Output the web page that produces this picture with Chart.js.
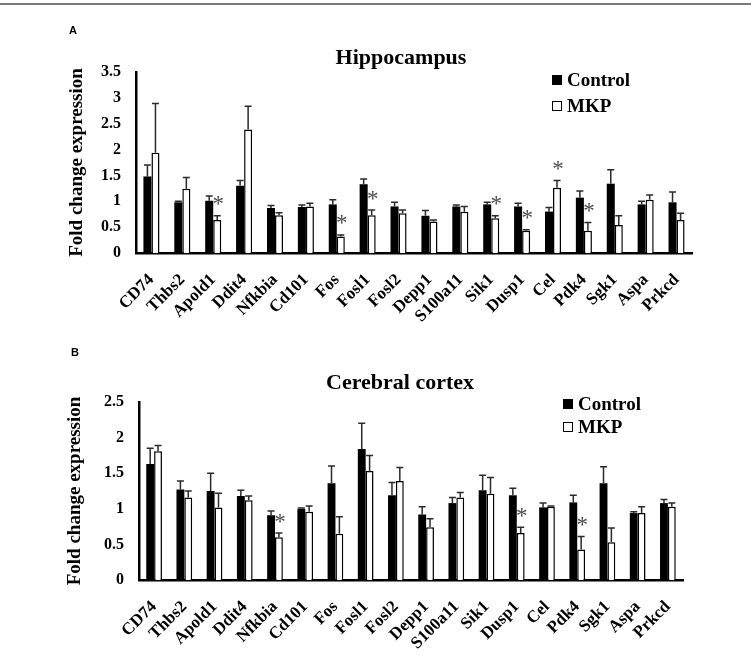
<!DOCTYPE html>
<html>
<head>
<meta charset="utf-8">
<script src="https://cdn.jsdelivr.net/npm/chart.js@4.4.1/dist/chart.umd.min.js"></script>
<style>
    html, body { margin: 0; padding: 0; background: #fff; }
    body { width: 751px; height: 655px; position: relative; overflow: hidden; }
    .topline { position: absolute; left: 0; top: 3px; width: 751px; height: 2px; background: #7a7a7a; }
    canvas { position: absolute; left: 0; }
    #chartA { top: 0; }
    #chartB { top: 335px; }
</style>
</head>
<body>
<div class="topline"></div>
<canvas id="chartA" width="751" height="335"></canvas>
<canvas id="chartB" width="751" height="320"></canvas>
<script>
// ================= DADOS =================
const genes = ["CD74", "Thbs2", "Apold1", "Ddit4", "Nfkbia", "Cd101", "Fos", "Fosl1", "Fosl2",
               "Depp1", "S100a11", "Sik1", "Dusp1", "Cel", "Pdk4", "Sgk1", "Aspa", "Prkcd"];

// Hippocampus (A)
const hipControl    = [1.48, 0.98, 1.01, 1.30, 0.87, 0.89, 0.94, 1.33, 0.90, 0.72, 0.90, 0.94, 0.90, 0.80, 1.07, 1.34, 0.94, 0.98];
const hipControlErr = [0.22, 0.02, 0.09, 0.10, 0.05, 0.04, 0.09, 0.10, 0.08, 0.10, 0.03, 0.04, 0.06, 0.08, 0.13, 0.27, 0.06, 0.20];
const hipMkp        = [1.94, 1.24, 0.64, 2.39, 0.73, 0.90, 0.32, 0.73, 0.77, 0.61, 0.80, 0.67, 0.43, 1.26, 0.43, 0.54, 1.03, 0.64];
const hipMkpErr     = [0.95, 0.22, 0.08, 0.45, 0.05, 0.06, 0.03, 0.10, 0.06, 0.03, 0.10, 0.05, 0.02, 0.14, 0.16, 0.18, 0.09, 0.13];
const hipStars      = ["Apold1", "Fos", "Fosl1", "Sik1", "Dusp1", "Cel", "Pdk4"];

// Cerebral cortex (B)
const ctxControl    = [1.63, 1.27, 1.25, 1.18, 0.91, 1.00, 1.36, 1.84, 1.19, 0.92, 1.08, 1.26, 1.19, 1.02, 1.09, 1.36, 0.94, 1.08];
const ctxControlErr = [0.22, 0.12, 0.25, 0.08, 0.06, 0.01, 0.24, 0.36, 0.18, 0.11, 0.08, 0.21, 0.10, 0.06, 0.10, 0.23, 0.02, 0.05];
const ctxMkp        = [1.81, 1.16, 1.02, 1.12, 0.60, 0.96, 0.65, 1.53, 1.39, 0.74, 1.16, 1.21, 0.66, 1.03, 0.43, 0.53, 0.94, 1.03];
const ctxMkpErr     = [0.08, 0.09, 0.20, 0.06, 0.06, 0.08, 0.24, 0.22, 0.19, 0.12, 0.07, 0.23, 0.08, 0.01, 0.18, 0.20, 0.09, 0.05];
const ctxStars      = ["Nfkbia", "Dusp1", "Pdk4"];

const seriesNames = ["Control", "MKP"];

const SERIF = "'Liberation Serif', 'Times New Roman', serif";

// ================= PLUGIN: barras de erro, asteriscos, titulo, legenda =================
const extrasPlugin = {
    id: "extras",
    afterDatasetsDraw(chart, args, opts) {
        const ctx = chart.ctx;
        const y = chart.scales.y;
        ctx.save();
        ctx.strokeStyle = "#2a2a2a";
        ctx.lineWidth = 1.5;
        chart.data.datasets.forEach((ds, i) => {
            const meta = chart.getDatasetMeta(i);
            meta.data.forEach((bar, j) => {
                const topPx = y.getPixelForValue(ds.data[j] + opts.errors[i][j]);
                ctx.beginPath();
                ctx.moveTo(bar.x, bar.y);
                ctx.lineTo(bar.x, topPx);
                ctx.moveTo(bar.x - 3.5, topPx);
                ctx.lineTo(bar.x + 3.5, topPx);
                ctx.stroke();
            });
        });

        // asteriscos sobre as barras MKP
        ctx.fillStyle = "#4a4a4a";
        ctx.font = "23px " + SERIF;
        ctx.textAlign = "center";
        ctx.textBaseline = "alphabetic";
        const m = ctx.measureText("*");
        const shift = (m.actualBoundingBoxAscent - m.actualBoundingBoxDescent) / 2;
        const mkpMeta = chart.getDatasetMeta(1);
        opts.stars.forEach(gene => {
            const j = chart.data.labels.indexOf(gene);
            const ds = chart.data.datasets[1];
            const topPx = y.getPixelForValue(ds.data[j] + opts.errors[1][j]);
            ctx.fillText("*", mkpMeta.data[j].x + 1, topPx - 15 + shift);
        });
        ctx.restore();
    },
    afterDraw(chart, args, opts) {
        const ctx = chart.ctx;
        ctx.save();
        // letra do painel
        ctx.fillStyle = "#000";
        ctx.font = "bold 11px 'Liberation Sans', Arial, sans-serif";
        ctx.textAlign = "left";
        ctx.textBaseline = "middle";
        ctx.fillText(opts.letter, opts.letterX, opts.letterY);

        // titulo
        ctx.font = "bold 22px " + SERIF;
        ctx.textAlign = "center";
        ctx.fillText(opts.title, opts.titleX, opts.titleY);

        // legenda
        ctx.font = "bold 19px " + SERIF;
        ctx.textAlign = "left";
        chart.data.datasets.forEach((ds, i) => {
            const cy = opts.legendY + i * opts.legendGap;
            ctx.fillStyle = ds.backgroundColor;
            ctx.fillRect(opts.legendX, cy - 5, 10, 10);
            ctx.strokeStyle = "#000";
            ctx.lineWidth = 1;
            ctx.strokeRect(opts.legendX + 0.5, cy - 4.5, 9, 9);
            ctx.fillStyle = "#000";
            ctx.fillText(ds.label, opts.legendX + 15, cy + 1);
        });
        ctx.restore();
    }
};

// ================= GRAFICOS =================
function criarPainel(canvasId, control, mkp, controlErr, mkpErr, stars, yMax, box, extras) {
    const c = document.getElementById(canvasId);
    return new Chart(c.getContext("2d"), {
        type: "bar",
        data: {
            labels: genes,
            datasets: [
                { label: seriesNames[0], data: control, backgroundColor: "#000", borderColor: "#000", borderWidth: 0 },
                { label: seriesNames[1], data: mkp, backgroundColor: "#fff", borderColor: "#000", borderWidth: 1.5 }
            ]
        },
        options: {
            responsive: false,
            animation: false,
            events: [],
            layout: { padding: { left: 0, top: box.top, right: box.right, bottom: 0 } },
            datasets: { bar: { categoryPercentage: 0.52, barPercentage: 1 } },
            plugins: {
                legend: { display: false },
                tooltip: { enabled: false },
                extras: Object.assign({ errors: [controlErr, mkpErr], stars: stars }, extras)
            },
            scales: {
                x: {
                    grid: { display: false },
                    border: { display: true, color: "#000", width: 2.5 },
                    ticks: {
                        autoSkip: false,
                        maxRotation: 45,
                        minRotation: 45,
                        padding: 9,
                        color: "#000",
                        font: { family: SERIF, size: 17, weight: "bold" }
                    },
                    afterFit: s => { s.height = box.xHeight; }
                },
                y: {
                    min: 0,
                    max: yMax,
                    grid: { display: false, drawTicks: false },
                    border: { display: true, color: "#000", width: 2.5 },
                    ticks: {
                        stepSize: 0.5,
                        padding: 15,
                        color: "#000",
                        font: { family: SERIF, size: 16, weight: "bold" },
                        callback: v => v
                    },
                    title: {
                        display: true,
                        text: "Fold change expression",
                        color: "#000",
                        font: { family: SERIF, size: 19, weight: "bold" },
                        padding: { top: box.titlePad, bottom: 0 }
                    },
                    afterFit: s => { s.width = box.left; }
                }
            }
        },
        plugins: [extrasPlugin]
    });
}

criarPainel("chartA", hipControl, hipMkp, hipControlErr, hipMkpErr, hipStars, 3.5,
    { top: 72, right: 59, left: 136, xHeight: 82, titlePad: 66 },
    { title: "Hippocampus", titleX: 401, titleY: 58, letter: "A", letterX: 69, letterY: 31,
      legendX: 552, legendY: 80, legendGap: 26 });

criarPainel("chartB", ctxControl, ctxMkp, ctxControlErr, ctxMkpErr, ctxStars, 2.5,
    { top: 67, right: 68, left: 139, xHeight: 75, titlePad: 64 },
    { title: "Cerebral cortex", titleX: 400, titleY: 48, letter: "B", letterX: 71, letterY: 18,
      legendX: 563, legendY: 69, legendGap: 23 });
</script>
</body>
</html>
